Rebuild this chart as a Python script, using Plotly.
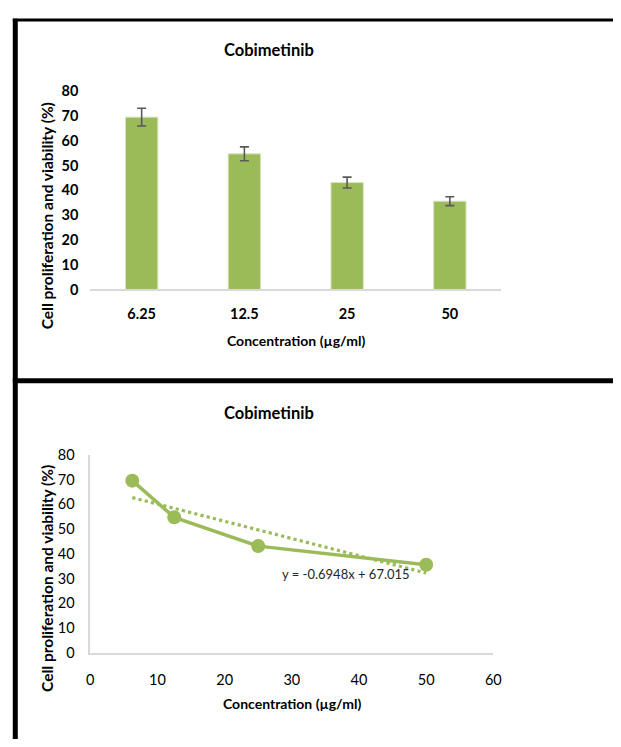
import plotly.graph_objects as go

# Cell proliferation / viability data for Cobimetinib
concentrations = [6.25, 12.5, 25, 50]
category_labels = ["6.25", "12.5", "25", "50"]
viability = [69.5, 54.7, 43.1, 35.6]
viability_err = [3.6, 2.8, 2.2, 1.8]
trend_slope = -0.6948
trend_intercept = 67.015
y_ticks = [0, 10, 20, 30, 40, 50, 60, 70, 80]
x_ticks = [0, 10, 20, 30, 40, 50, 60]

W, H = 621, 747
GREEN = "#9BBB59"
FONT = "Lato"


def px(x):
    return x / W


def py(y):
    return 1 - y / H


fig = go.Figure()

# Upper panel: bar chart with error bars
fig.add_trace(go.Bar(
    x=category_labels, y=viability,
    marker=dict(color=GREEN, line=dict(color="#d6e4bd", width=1)),
    error_y=dict(type="data", array=viability_err, color="#595959",
                 thickness=1.6, width=4.5),
    xaxis="x", yaxis="y", showlegend=False,
))

# Lower panel: line with markers and linear trendline
trend_x = [concentrations[0], concentrations[-1]]
trend_y = [trend_slope * v + trend_intercept for v in trend_x]
fig.add_trace(go.Scatter(
    x=trend_x, y=trend_y, mode="lines",
    line=dict(color=GREEN, width=3.2, dash="dot"),
    xaxis="x2", yaxis="y2", showlegend=False,
))
fig.add_trace(go.Scatter(
    x=concentrations, y=viability, mode="lines+markers",
    line=dict(color=GREEN, width=3.5),
    marker=dict(color=GREEN, size=14),
    xaxis="x2", yaxis="y2", showlegend=False,
))

tick_font_bold = dict(family=FONT, size=14.5, color="#000000", weight="bold")
tick_font = dict(family=FONT, size=14.5, color="#000000")

fig.update_layout(
    width=W, height=H,
    margin=dict(l=0, r=0, t=0, b=0),
    paper_bgcolor="white", plot_bgcolor="white",
    bargap=0.685,
    xaxis=dict(
        domain=[px(88), px(507)], anchor="y",
        type="category", range=[-0.5, 3.5],
        showline=True, linecolor="#d9d9d9", linewidth=1.5,
        showgrid=False, ticks="", tickfont=tick_font_bold,
        ticklabelstandoff=10,
    ),
    yaxis=dict(
        domain=[py(287), py(84)], anchor="x",
        range=[0, 80], tickvals=y_ticks,
        showline=False, showgrid=False, zeroline=False,
        ticks="", tickfont=tick_font_bold, ticklabelstandoff=11,
    ),
    xaxis2=dict(
        domain=[px(88), px(499)], anchor="y2",
        range=[0, 60], tickvals=x_ticks,
        showline=True, linecolor="#d9d9d9", linewidth=1.5,
        showgrid=False, zeroline=False, ticks="", tickfont=tick_font,
        ticklabelstandoff=13,
    ),
    yaxis2=dict(
        domain=[py(659), py(456)], anchor="x2",
        range=[0, 80], tickvals=y_ticks,
        showline=True, linecolor="#d9d9d9", linewidth=1.5,
        showgrid=False, zeroline=False, ticks="", tickfont=tick_font,
        ticklabelstandoff=11,
    ),
)

title_font = dict(family=FONT, size=16.5, color="#000000", weight="bold")
axis_title_font = dict(family=FONT, size=14, color="#000000", weight="bold")
y_title_font = dict(family=FONT, size=15.5, color="#000000", weight="bold")

annotations = [
    dict(text="Cobimetinib", x=px(270), y=py(42), font=title_font),
    dict(text="Concentration (µg/ml)", x=px(298), y=py(339), font=axis_title_font),
    dict(text="Cell proliferation and viability (%)", x=px(44), y=py(212),
         textangle=-90, font=y_title_font),
    dict(text="Cobimetinib", x=px(270), y=py(413), font=title_font),
    dict(text="Concentration (µg/ml)", x=px(294), y=py(711), font=axis_title_font),
    dict(text="Cell proliferation and viability (%)", x=px(44), y=py(583),
         textangle=-90, font=y_title_font),
    dict(text="y = -0.6948x + 67.015", x=px(349), y=py(578),
         font=dict(family=FONT, size=13, color="#262626")),
]
for a in annotations:
    a.update(xref="paper", yref="paper", showarrow=False,
             xanchor="center", yanchor="middle")
fig.update_layout(annotations=annotations)

# Panel frames
frame = dict(type="line", xref="paper", yref="paper", line=dict(color="#000000"))
fig.add_shape(**frame, x0=px(11.5), x1=px(11.5), y0=py(10), y1=0, line_width=5)
fig.add_shape(**frame, x0=px(9), x1=1, y0=py(11.2), y1=py(11.2), line_width=3)
fig.add_shape(**frame, x0=px(9), x1=1, y0=py(380.5), y1=py(380.5), line_width=5)

fig.write_html("out.html")
